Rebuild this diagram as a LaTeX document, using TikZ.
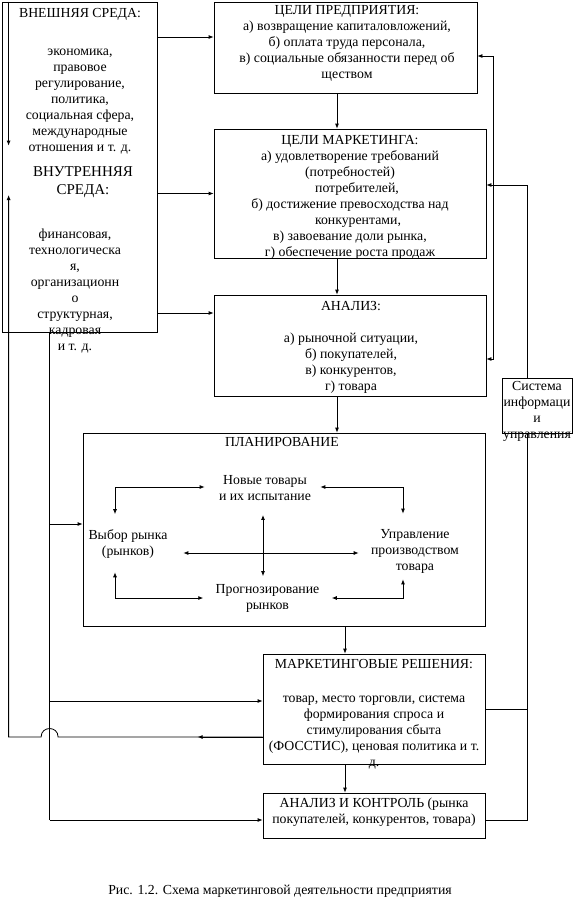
\documentclass[tikz,border=0pt]{standalone}
\usepackage{fontspec}
\setmainfont{Liberation Serif}
\usepackage{tikz}
\usetikzlibrary{arrows.meta,positioning,calc}

\begin{document}
\begin{tikzpicture}[x=1pt,y=-1pt,line width=0.8pt,
  font=\fontsize{13.8}{16}\selectfont,
  >={Latex[length=5pt,width=4pt]},
  box/.style 2 args={draw,inner sep=0pt,minimum width=#1,minimum height=#2},
  lbl/.style={align=center,inner sep=0pt}]
\useasboundingbox (0,0) rectangle (576,911);

\node[box={155}{330}] (env) at (79.5,167) {};
\node[box={263}{91}] (goals) at (345.5,47.5) {};
\node[box={272}{129}] (mgoals) at (350,193.5) {};
\node[box={272}{101}] (anal) at (350,345.5) {};
\node[box={402}{193}] (plan) at (284,529.5) {};
\node[box={70}{55}] (sysinfo) at (537,405.5) {};
\node[box={222}{110}] (decis) at (374,709) {};
\node[box={222}{45}] (control) at (374,815.5) {};

\node[lbl,anchor=north] (envtxt) at ($(env.north)+(0.5,6)$) {ВНЕШНЯЯ СРЕДА:\\[22pt]экономика,\\правовое\\регулирование,\\политика,\\социальная сфера,\\международные\\отношения и т. д.};
\node[lbl,anchor=north,font=\fontsize{15}{18}\selectfont] (intxt) at ($(env.north)+(3.5,165)$) {ВНУТРЕННЯЯ\\СРЕДА:};
\node[lbl,anchor=north] (fintxt) at ($(env.north)+(-4.5,227)$) {финансовая,\\технологическа\\я,\\организационн\\о\\структурная,\\кадровая\\и т. д.};
\node[lbl,anchor=north] (goaltxt) at ($(goals.north)+(1.5,3)$) {ЦЕЛИ ПРЕДПРИЯТИЯ:\\а) возвращение капиталовложений,\\б) оплата труда персонала,\\в) социальные обязанности перед об\\ществом};
\node[lbl,anchor=north] (mgtxt) at ($(mgoals.north)+(0,6)$) {ЦЕЛИ МАРКЕТИНГА:\\а) удовлетворение требований\\(потребностей)\\\hspace*{14pt}потребителей,\\б) достижение превосходства над\\\hspace*{16pt}конкурентами,\\в) завоевание доли рынка,\\г) обеспечение роста продаж};
\node[lbl,anchor=north] (antxt) at ($(anal.north)+(1,6)$) {АНАЛИЗ:\\[16pt]а) рыночной ситуации,\\б) покупателей,\\в) конкурентов,\\г) товара};
\node[lbl] (plantxt) at ($(plan.north)+(-2,9)$) {ПЛАНИРОВАНИЕ};
\node[lbl,anchor=north] (systxt) at ($(sysinfo.north)+(0,3)$) {Система\\информаци\\и\\управления};
\node[lbl,anchor=north] (dectxt) at ($(decis.north)+(0,5)$) {МАРКЕТИНГОВЫЕ РЕШЕНИЯ:\\[18pt]товар, место торговли, система\\формирования спроса и\\стимулирования сбыта\\(ФОССТИС), ценовая политика и т.\\д.};
\node[lbl,anchor=north] (contxt) at ($(control.north)+(0,5)$) {АНАЛИЗ И КОНТРОЛЬ (рынка\\покупателей, конкурентов, товара)};

\node[lbl] (newg) at (265,488) {Новые товары\\и их испытание};
\node[lbl] (mkt) at (128,544) {Выбор рынка\\(рынков)};
\node[lbl] (prod) at (415,551) {Управление\\производством\\товара};
\node[lbl] (fcst) at (267.5,598) {Прогнозирование\\рынков};

\node[lbl] (caption) at (280,891) {Рис. 1.2. Схема маркетинговой деятельности предприятия};

\coordinate (gin) at ($(goals.west)+(0,-10.5)$);
\coordinate (ain) at ($(anal.west)+(0,-32.5)$);
\draw[->] (env.east |- gin) -- (gin);
\draw[->] (env.east |- mgoals.west) -- (mgoals.west);
\draw[->] (env.east |- ain) -- (ain);

\draw[->] ($(goals.south)+(-8.5,0)$) coordinate (c1) -- (c1 |- mgoals.north);
\draw[->] (mgoals.south -| c1) -- (c1 |- anal.north);
\draw[->] (anal.south -| c1) -- (c1 |- plan.north);
\coordinate (c3) at ($(decis.north)+(-29,0)$);
\draw[->] (plan.south -| c3) -- (c3);
\draw[->] (decis.south -| c3) -- (c3 |- control.north);

\draw[<->] ($(goals.east)+(0,8.5)$) -- ++(16,0) |- ($(anal.east)+(0,13.5)$);
\coordinate (sx) at ($(sysinfo.north)+(-10,0)$);
\draw[->] (sx) |- ($(mgoals.east)+(0,-8.5)$);
\draw ($(sysinfo.south)+(-10,0)$) |- ($(control.east)+(0,4.5)$);
\draw (decis.east) -- (decis.east -| sx);

\draw[->] ($(env.north west)+(7,0)$) -- ++(0,144);
\coordinate (bus) at ($(env.south west)+(48,0)$);
\coordinate (pin) at ($(plan.west)+(0,-5.5)$);
\coordinate (din) at ($(decis.west)+(0,-8)$);
\coordinate (cin) at ($(control.west)+(0,4.5)$);
\draw (bus) -- (bus |- cin);
\foreach \t in {pin,din,cin}
  \draw[->] (bus |- \t) -- (\t);

\coordinate (dout) at ($(decis.west)+(0,28)$);
\coordinate (lp) at ($(env.west)+(7,28)$);
\draw[->] (dout) -- ++(-65,0);
\draw[->] (dout) -- ($(bus |- dout)+(8.5,0)$) .. controls +(0,-11.3) and +(0,-11.3) .. ($(bus |- dout)+(-8.5,0)$) -- (lp |- dout) -- (lp);

\draw[<->] ($(newg.west)+(-14,-1)$) -| ($(mkt.north)+(-13,-15)$);
\draw[<->] ($(newg.east)+(9,-1)$) -| ($(prod.north)+(-12,-15)$);
\draw[<->] ($(mkt.south)+(-13,13.5)$) |- ($(fcst.west)+(-12,0)$);
\draw[<->] ($(fcst.east)+(12,0)$) -| ($(prod.south)+(-12,6)$);
\draw[<->] ($(newg.south)+(-2,14)$) -- ($(fcst.north)+(-4.5,-7.5)$);
\draw[<->] ($(mkt.east)+(15.5,9)$) -- ($(prod.west)+(-12,2)$);
\end{tikzpicture}
\end{document}
